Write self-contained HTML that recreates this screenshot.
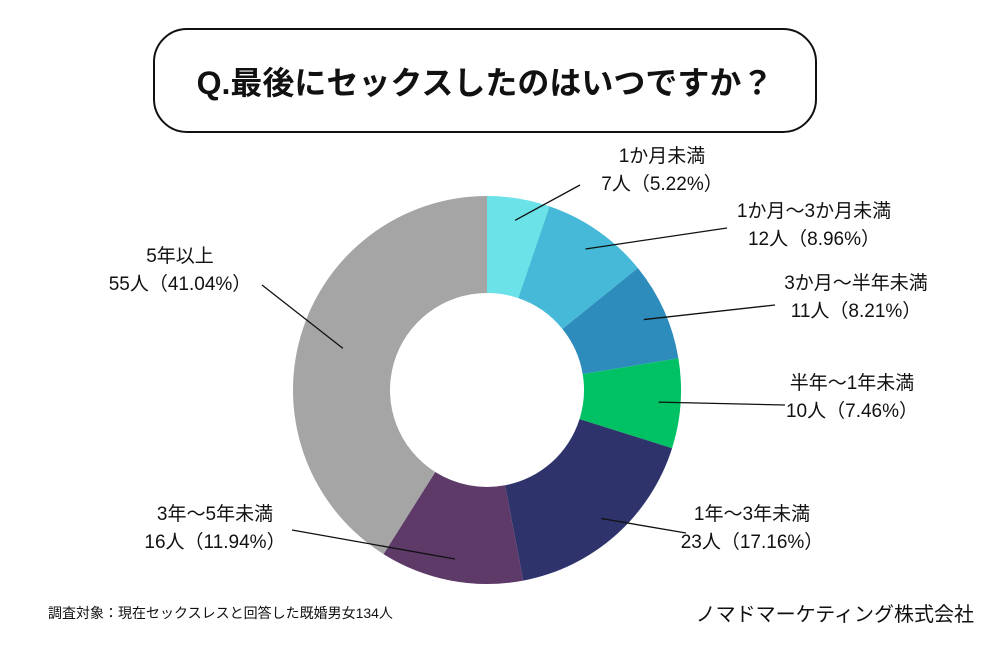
<!DOCTYPE html>
<html><head><meta charset="utf-8">
<style>
body{margin:0;background:#fff;}
#wrap{position:relative;width:1000px;height:650px;overflow:hidden;font-family:"Liberation Sans","Noto Sans CJK JP",sans-serif;color:#111;}
#title{position:absolute;left:153px;top:28px;width:664px;height:105px;border:2px solid #111;border-radius:34px;box-sizing:border-box;display:flex;align-items:center;justify-content:center;font-size:32px;font-weight:bold;}
.lbl{position:absolute;font-size:19px;line-height:28px;text-align:center;white-space:nowrap;transform:translateX(-50%);}
#foot1{position:absolute;left:48px;top:603px;font-size:14px;}
#foot2{position:absolute;right:26px;top:598px;font-size:20px;}
</style></head>
<body>
<div id="wrap">
<div id="title">Q.最後にセックスしたのはいつですか？</div>
<svg id="svg" width="1000" height="650" style="position:absolute;left:0;top:0"></svg>
<div id="foot1">調査対象：現在セックスレスと回答した既婚男女134人</div>
<div id="foot2">ノマドマーケティング株式会社</div>
</div>
<script>
const categories=["1か月未満","1か月〜3か月未満","3か月〜半年未満","半年〜1年未満","1年〜3年未満","3年〜5年未満","5年以上"];
const counts=[7,12,11,10,23,16,55];
const percents=["5.22%","8.96%","8.21%","7.46%","17.16%","11.94%","41.04%"];
const colors=["#6ae2e8","#45b9d7","#2e8cbc","#00c163","#2f336b","#5d3a68","#a5a5a5"];
const labelPos=[[662,157],[814,212],[856,284],[852,384],[752,515],[215,515],[180,257]];
const lineEnd=[[580,185],[727,228],[775,305],[785,405],[686,533],[292,530],[262,285]];
const cx=487,cy=390,R=194,r=97;
const svg=document.getElementById('svg');
const NS='http://www.w3.org/2000/svg';
const total=counts.reduce((a,b)=>a+b,0);
function pt(a,rad){return [cx+rad*Math.sin(a),cy-rad*Math.cos(a)];}
let acc=0;
const lines=[];
counts.forEach((v,i)=>{
  const a0=acc/total*2*Math.PI; acc+=v; const a1=acc/total*2*Math.PI;
  const big=(a1-a0)>Math.PI?1:0;
  const p0=pt(a0,R),p1=pt(a1,R),q1=pt(a1,r),q0=pt(a0,r);
  const p=document.createElementNS(NS,'path');
  p.setAttribute('d',`M${p0[0]},${p0[1]} A${R},${R} 0 ${big} 1 ${p1[0]},${p1[1]} L${q1[0]},${q1[1]} A${r},${r} 0 ${big} 0 ${q0[0]},${q0[1]} Z`);
  p.setAttribute('fill',colors[i]);
  
  
  svg.appendChild(p);
  const m=(a0+a1)/2, s=pt(m,i==6?150:172);
  lines.push([s,lineEnd[i],i]);
  const d=document.createElement('div');
  d.className='lbl';
  d.style.left=labelPos[i][0]+'px';d.style.top=(labelPos[i][1]-14)+'px';
  d.innerHTML=categories[i]+'<br>'+counts[i]+'人（'+percents[i]+'）';
  
  
  document.getElementById('wrap').appendChild(d);
});
lines.forEach(([s,e,i])=>{
  const l=document.createElementNS(NS,'line');
  l.setAttribute('x1',s[0]);l.setAttribute('y1',s[1]);
  l.setAttribute('x2',e[0]);l.setAttribute('y2',e[1]);
  l.setAttribute('stroke','#111');l.setAttribute('stroke-width','1.3');
  
  
  svg.appendChild(l);
});
</script>
</body></html>
